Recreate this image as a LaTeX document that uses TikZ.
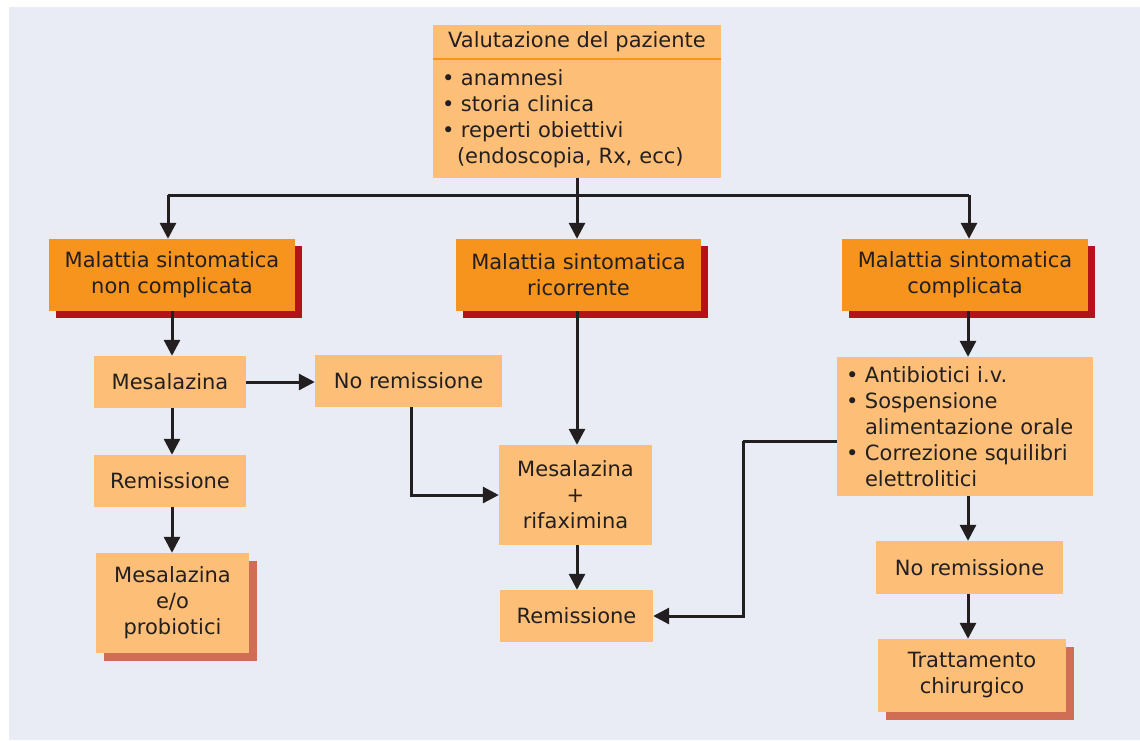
\documentclass[tikz,border=0pt]{standalone}
\usepackage{fontspec}
\setmainfont{DejaVu Sans}
\usetikzlibrary{arrows.meta,shadows}

\definecolor{bgblue}{HTML}{E9ECF5}
\definecolor{paleorange}{HTML}{FDBF77}
\definecolor{deeporange}{HTML}{F7941D}
\definecolor{darkred}{HTML}{B5121B}
\definecolor{salmon}{HTML}{CF6E55}
\definecolor{ink}{HTML}{231F20}

\newcommand\boxfont{\fontsize{21}{26}\selectfont}
\newcommand\bul{\makebox[19pt][l]{\textbullet}}

\begin{document}
\begin{tikzpicture}[x=1pt, y=-1pt,
  every node/.style={text=ink, font=\boxfont},
  box/.style={fill=paleorange, inner sep=0pt, align=center},
  hot/.style={fill=deeporange, inner sep=0pt, align=center,
    drop shadow={shadow xshift=7pt, shadow yshift=-7pt, fill=darkred, opacity=1}},
  soft/.style={box,
    drop shadow={shadow xshift=8pt, shadow yshift=-8pt, fill=salmon, opacity=1}},
  link/.style={draw=ink, line width=3pt, -{Triangle[length=16pt,width=16pt]}},
  wire/.style={draw=ink, line width=3pt}]

  %% background
  \fill[white] (0,0) rectangle (1140,740);
  \fill[bgblue] (9,7) rectangle (1140,740);

  %% patient assessment
  \node[box, minimum width=288pt, minimum height=34pt] (eval) at (577,42)
    {Valutazione del paziente};
  \node[box, minimum width=288pt, minimum height=119pt, inner xsep=9pt,
    text width=270pt, align=left] (evalbody) at (577,118.5)
    {\bul anamnesi\\ \bul storia clinica\\ \bul reperti obiettivi\\
     \hspace*{15pt}(endoscopia, Rx, ecc)};
  \draw[deeporange, line width=2.5pt] (eval.south west) -- (eval.south east);

  %% three cases
  \node[hot, minimum width=246pt, minimum height=72pt] (nc) at (172,275)
    {Malattia sintomatica\\non complicata};
  \node[hot, minimum width=245pt, minimum height=72pt] (ric) at (578.5,275)
    {Malattia sintomatica\\ricorrente};
  \node[hot, minimum width=246pt, minimum height=72pt] (comp) at (965,275)
    {Malattia sintomatica\\complicata};

  %% left column
  \node[box, minimum width=152pt, minimum height=52pt] (mesa) at (170,382) {Mesalazina};
  \node[box, minimum width=187pt, minimum height=52pt] (noremA) at (408.5,381) {No remissione};
  \node[box, minimum width=152pt, minimum height=52pt] (remA) at (170,481) {Remissione};
  \node[soft, minimum width=153pt, minimum height=100pt] (probio) at (172.5,603)
    {Mesalazina\\e/o\\probiotici};

  %% middle column
  \node[box, minimum width=153pt, minimum height=100pt] (mesarif) at (575.5,495)
    {Mesalazina\\+\\rifaximina};
  \node[box, minimum width=153pt, minimum height=52pt] (remB) at (576.5,616) {Remissione};

  %% right column
  \node[box, minimum width=256pt, minimum height=139pt, inner xsep=9pt,
    text width=238pt, align=left] (anti) at (965,426.5)
    {\bul Antibiotici i.v.\\ \bul Sospensione\\ \hspace*{19pt}alimentazione orale\\
     \bul Correzione squilibri\\ \hspace*{19pt}elettrolitici};
  \node[box, minimum width=187pt, minimum height=53pt] (noremB) at (969.5,567.5) {No remissione};
  \node[soft, minimum width=188pt, minimum height=73pt] (chir) at (972,675.5)
    {Trattamento\\chirurgico};

  %% connectors
  \coordinate (split) at (577,195);
  \coordinate (elbow) at (743,441);
  \draw[wire] (evalbody.south) -- (split);
  \draw[wire] (168,195) -- (969,195);
  \draw[link] (168,195) -- (nc.north -| 168,0);
  \draw[link] (split) -- (ric.north -| split);
  \draw[link] (969,195) -- (comp.north -| 969,0);

  \draw[link] (nc.south) -- (nc.south |- mesa.north);
  \draw[link] (mesa.east) -- (mesa.east -| noremA.west);
  \draw[link] (mesa.south -| nc.south) -- (remA.north -| nc.south);
  \draw[link] (remA.south -| nc.south) -- (probio.north -| nc.south);

  \draw[link] (ric.south -| split) -- (mesarif.north -| split);
  \draw[link] (noremA.south -| 411,0) |- (mesarif.west);
  \draw[link] (mesarif.south -| split) -- (remB.north -| split);

  \draw[link] (comp.south -| 968,0) -- (anti.north -| 968,0);
  \draw[wire] (anti.west |- elbow) -- (elbow);
  \draw[link] (elbow) |- (remB.east);
  \draw[link] (anti.south -| 968,0) -- (noremB.north -| 968,0);
  \draw[link] (noremB.south -| 968,0) -- (chir.north -| 968,0);

\end{tikzpicture}
\end{document}
